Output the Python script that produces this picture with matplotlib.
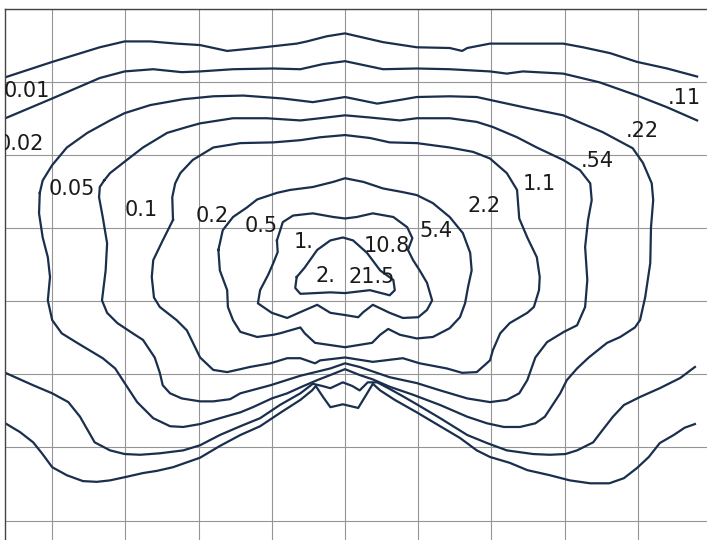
import matplotlib
matplotlib.use("Agg")
from matplotlib import pyplot as plt

# contour paths, grid units (one grid cell = 1), x right, y up
# level 0.01 (two open branches)
c001_upper = [(-4.64, 3.06), (-4.00, 3.27), (-3.35, 3.47), (-3.01, 3.55), (-2.66, 3.55),
              (-2.30, 3.52), (-1.98, 3.50), (-1.61, 3.42), (-1.20, 3.46), (-0.66, 3.52),
              (-0.52, 3.55), (-0.25, 3.62), (0.00, 3.66), (0.52, 3.54), (0.98, 3.47),
              (1.43, 3.46), (1.60, 3.42), (1.67, 3.46), (1.98, 3.52), (2.43, 3.52),
              (2.98, 3.52), (3.25, 3.47), (3.62, 3.39), (3.99, 3.27), (4.40, 3.18),
              (4.81, 3.07)]
c001_lower = [(-4.64, -1.67), (-4.44, -1.79), (-4.26, -1.93), (-4.14, -2.08), (-4.00, -2.27),
              (-3.80, -2.38), (-3.58, -2.46), (-3.39, -2.47), (-3.21, -2.45), (-2.98, -2.40),
              (-2.76, -2.35), (-2.57, -2.32), (-2.35, -2.27), (-1.98, -2.14), (-1.71, -1.98),
              (-1.43, -1.83), (-1.16, -1.71), (-0.89, -1.53), (-0.61, -1.35), (-0.45, -1.22),
              (-0.40, -1.16), (-0.30, -1.31), (-0.20, -1.45), (-0.03, -1.41), (0.18, -1.46),
              (0.29, -1.28), (0.38, -1.13), (0.48, -1.22), (0.68, -1.35), (0.98, -1.52),
              (1.30, -1.71), (1.57, -1.87), (1.80, -2.04), (1.98, -2.13), (2.25, -2.21),
              (2.49, -2.31), (2.80, -2.38), (3.07, -2.45), (3.35, -2.49), (3.61, -2.49),
              (3.81, -2.42), (3.99, -2.28), (4.15, -2.13), (4.30, -1.94), (4.49, -1.83),
              (4.64, -1.73), (4.78, -1.68)]

# level 0.02 (two open branches)
c002_upper = [(-4.64, 2.50), (-4.00, 2.77), (-3.35, 3.05), (-3.01, 3.14), (-2.62, 3.17),
              (-2.23, 3.13), (-1.98, 3.14), (-1.53, 3.17), (-0.98, 3.18), (-0.61, 3.17),
              (-0.30, 3.24), (0.00, 3.28), (0.52, 3.17), (0.98, 3.18), (1.43, 3.17),
              (1.98, 3.14), (2.21, 3.11), (2.43, 3.14), (2.98, 3.11), (3.48, 2.99),
              (3.99, 2.81), (4.40, 2.65), (4.81, 2.47)]
c002_lower = [(-4.64, -0.98), (-4.26, -1.15), (-4.00, -1.26), (-3.78, -1.38), (-3.62, -1.58),
              (-3.42, -1.93), (-3.21, -2.04), (-3.01, -2.09), (-2.80, -2.10), (-2.53, -2.08),
              (-2.21, -2.04), (-1.98, -1.97), (-1.71, -1.83), (-1.43, -1.71), (-1.16, -1.60),
              (-0.89, -1.42), (-0.61, -1.26), (-0.44, -1.13), (-0.31, -1.16), (-0.20, -1.19),
              (-0.03, -1.11), (0.10, -1.16), (0.20, -1.22), (0.31, -1.11), (0.44, -1.11),
              (0.61, -1.20), (0.79, -1.30), (0.98, -1.41), (1.30, -1.60), (1.67, -1.83),
              (1.94, -1.94), (2.21, -2.04), (2.57, -2.09), (2.80, -2.10), (3.01, -2.09),
              (3.17, -2.04), (3.39, -1.93), (3.52, -1.76), (3.66, -1.58), (3.81, -1.42),
              (4.03, -1.31), (4.30, -1.19), (4.58, -1.05), (4.78, -0.90)]

# closed levels
c005 = [(-4.17, 1.48), (-4.13, 1.65), (-4.00, 1.86), (-3.80, 2.10), (-3.52, 2.30),
        (-3.21, 2.47), (-3.01, 2.57), (-2.66, 2.68), (-2.21, 2.76), (-1.80, 2.80),
        (-1.39, 2.81), (-0.85, 2.77), (-0.44, 2.72), (0.00, 2.79), (0.44, 2.70),
        (0.75, 2.75), (0.98, 2.79), (1.43, 2.80), (1.80, 2.79), (2.12, 2.72),
        (2.49, 2.64), (2.98, 2.54), (3.52, 2.31), (3.93, 2.09), (4.07, 1.89),
        (4.19, 1.61), (4.21, 1.38), (4.18, 1.01), (4.17, 0.52), (4.10, 0.05),
        (4.03, -0.26), (3.96, -0.36), (3.76, -0.49), (3.58, -0.57), (3.33, -0.77),
        (3.17, -0.92), (3.03, -1.08), (2.94, -1.26), (2.73, -1.58), (2.60, -1.67),
        (2.39, -1.72), (2.17, -1.72), (1.94, -1.67), (1.67, -1.58), (1.30, -1.42),
        (0.93, -1.28), (0.61, -1.17), (0.38, -1.07), (0.20, -1.01), (0.00, -0.93),
        (-0.20, -1.01), (-0.38, -1.08), (-0.59, -1.17), (-0.79, -1.26), (-1.00, -1.33),
        (-1.26, -1.45), (-1.43, -1.52), (-1.71, -1.60), (-1.98, -1.68), (-2.21, -1.72),
        (-2.39, -1.71), (-2.62, -1.60), (-2.84, -1.38), (-3.01, -1.12), (-3.14, -0.92),
        (-3.31, -0.78), (-3.66, -0.57), (-3.87, -0.44), (-4.00, -0.26), (-4.06, 0.01),
        (-4.03, 0.33), (-4.06, 0.60), (-4.13, 0.87), (-4.18, 1.20)]

c01 = [(-3.29, 1.65), (-3.21, 1.75), (-2.98, 1.93), (-2.76, 2.10), (-2.43, 2.30),
       (-2.16, 2.38), (-1.98, 2.43), (-1.53, 2.50), (-1.07, 2.50), (-0.61, 2.47),
       (-0.34, 2.50), (0.00, 2.54), (0.34, 2.51), (0.75, 2.47), (0.98, 2.50),
       (1.43, 2.50), (1.80, 2.45), (2.02, 2.38), (2.35, 2.24), (2.62, 2.10),
       (2.98, 1.93), (3.21, 1.79), (3.35, 1.61), (3.37, 1.38), (3.32, 1.11),
       (3.28, 0.74), (3.31, 0.29), (3.28, -0.08), (3.17, -0.33), (2.99, -0.42),
       (2.76, -0.56), (2.60, -0.77), (2.49, -1.08), (2.38, -1.26), (2.21, -1.35),
       (1.98, -1.38), (1.67, -1.33), (1.30, -1.22), (0.98, -1.12), (0.61, -1.04),
       (0.20, -0.90), (0.00, -0.85), (-0.20, -0.92), (-0.61, -1.02), (-1.02, -1.15),
       (-1.43, -1.26), (-1.57, -1.34), (-1.80, -1.37), (-1.98, -1.37), (-2.23, -1.33),
       (-2.39, -1.26), (-2.49, -1.15), (-2.53, -0.98), (-2.60, -0.77), (-2.76, -0.53),
       (-2.90, -0.44), (-3.11, -0.30), (-3.25, -0.16), (-3.32, 0.01), (-3.27, 0.42),
       (-3.25, 0.79), (-3.31, 1.15), (-3.36, 1.42), (-3.35, 1.56)]

c02 = [(-2.35, 1.11), (-2.36, 1.42), (-2.32, 1.61), (-2.25, 1.75), (-2.08, 1.93),
       (-1.80, 2.10), (-1.43, 2.16), (-0.98, 2.17), (-0.61, 2.20), (-0.34, 2.24),
       (0.00, 2.27), (0.34, 2.23), (0.61, 2.17), (0.98, 2.16), (1.43, 2.10),
       (1.75, 2.04), (1.98, 1.95), (2.21, 1.75), (2.35, 1.52), (2.38, 1.13),
       (2.49, 0.87), (2.62, 0.60), (2.66, 0.33), (2.65, 0.15), (2.58, -0.08),
       (2.49, -0.16), (2.25, -0.30), (2.12, -0.44), (2.02, -0.67), (1.98, -0.81),
       (1.80, -0.97), (1.60, -0.98), (1.39, -0.92), (1.02, -0.85), (0.79, -0.78),
       (0.38, -0.83), (0.00, -0.77), (-0.34, -0.81), (-0.41, -0.85), (-0.61, -0.78),
       (-0.79, -0.78), (-1.02, -0.85), (-1.30, -0.90), (-1.43, -0.93), (-1.61, -0.97),
       (-1.80, -0.94), (-1.98, -0.77), (-2.16, -0.40), (-2.30, -0.26), (-2.53, -0.08),
       (-2.61, 0.05), (-2.64, 0.33), (-2.62, 0.56), (-2.49, 0.83)]

c05 = [(-1.73, 0.70), (-1.67, 0.97), (-1.53, 1.15), (-1.34, 1.28), (-1.20, 1.39),
       (-0.93, 1.48), (-0.75, 1.52), (-0.44, 1.56), (-0.16, 1.63), (0.00, 1.68),
       (0.25, 1.63), (0.52, 1.54), (0.79, 1.49), (0.98, 1.45), (1.20, 1.34),
       (1.43, 1.15), (1.61, 0.93), (1.71, 0.66), (1.73, 0.42), (1.68, 0.19),
       (1.64, -0.03), (1.57, -0.22), (1.43, -0.37), (1.20, -0.49), (0.98, -0.51),
       (0.75, -0.46), (0.59, -0.38), (0.48, -0.46), (0.37, -0.57), (0.00, -0.63),
       (-0.41, -0.57), (-0.55, -0.44), (-0.61, -0.36), (-0.89, -0.44), (-0.98, -0.46),
       (-1.20, -0.49), (-1.43, -0.42), (-1.53, -0.26), (-1.60, -0.08), (-1.61, 0.15),
       (-1.71, 0.42)]

c1 = [(-0.93, 0.83), (-0.85, 1.08), (-0.71, 1.17), (-0.44, 1.20), (-0.16, 1.15),
      (0.00, 1.13), (0.16, 1.15), (0.38, 1.20), (0.66, 1.15), (0.85, 1.01),
      (0.92, 0.86), (0.86, 0.70), (0.93, 0.56), (1.02, 0.42), (1.12, 0.25),
      (1.19, 0.01), (1.12, -0.12), (1.00, -0.22), (0.79, -0.23), (0.61, -0.16),
      (0.38, -0.05), (0.25, -0.15), (0.18, -0.22), (0.00, -0.19), (-0.20, -0.16),
      (-0.38, -0.05), (-0.61, -0.15), (-0.79, -0.23), (-1.00, -0.16), (-1.19, -0.03),
      (-1.16, 0.15), (-1.05, 0.36), (-0.98, 0.52), (-0.92, 0.67)]

c2 = [(-0.66, 0.33), (-0.55, 0.46), (-0.38, 0.70), (-0.20, 0.83), (-0.03, 0.87),
      (0.11, 0.83), (0.30, 0.66), (0.48, 0.42), (0.66, 0.29), (0.68, 0.15),
      (0.61, 0.08), (0.34, 0.15), (0.00, 0.11), (-0.20, 0.12), (-0.61, 0.10),
      (-0.68, 0.18)]

open_paths = [c001_upper, c001_lower, c002_upper, c002_lower]
closed_paths = [c005, c01, c02, c05, c1, c2]

# labels: left set and right set (x centre, baseline y)
left_labels = ["0.01", "0.02", "0.05", "0.1", "0.2", "0.5", "1.", "2."]
left_x = [-4.35, -4.43, -3.73, -2.79, -1.82, -1.15, -0.56, -0.27]
left_y = [2.79, 2.06, 1.45, 1.17, 1.08, 0.94, 0.72, 0.26]
right_labels = [".11", ".22", ".54", "1.1", "2.2", "5.4", "10.8", "21.5"]
right_x = [4.63, 4.06, 3.44, 2.66, 1.90, 1.24, 0.57, 0.37]
right_y = [2.70, 2.24, 1.83, 1.52, 1.22, 0.87, 0.67, 0.25]

line_color = "#1a2f4d"

fig = plt.figure(figsize=(7.07, 5.40), dpi=100)
ax = fig.add_axes([5 / 707, 0, 702 / 707, 531.5 / 540])
ax.set_xlim(-4.645, 4.945)
ax.set_ylim(-3.265, 4.0)

ax.set_xticks(range(-4, 5))
ax.set_yticks(range(-3, 5))
ax.grid(True, color="#959595", linewidth=0.8)
ax.tick_params(length=0, labelbottom=False, labelleft=False)
ax.set_axisbelow(True)
for side in ["right", "bottom"]:
    ax.spines[side].set_visible(False)
for side in ["top", "left"]:
    ax.spines[side].set_color("#444444")
    ax.spines[side].set_linewidth(1.0)

for p in open_paths:
    xs = [q[0] for q in p]
    ys = [q[1] for q in p]
    ax.plot(xs, ys, color=line_color, lw=1.6, solid_joinstyle="round")
for p in closed_paths:
    xs = [q[0] for q in p] + [p[0][0]]
    ys = [q[1] for q in p] + [p[0][1]]
    ax.plot(xs, ys, color=line_color, lw=1.6, solid_joinstyle="round")

for lab, x, y in zip(left_labels + right_labels, left_x + right_x, left_y + right_y):
    ax.text(x, y, lab, ha="center", va="baseline", fontsize=15,
            family="DejaVu Sans", color="#1a1a1a", clip_on=True)

fig.savefig("out.png", dpi=100)
